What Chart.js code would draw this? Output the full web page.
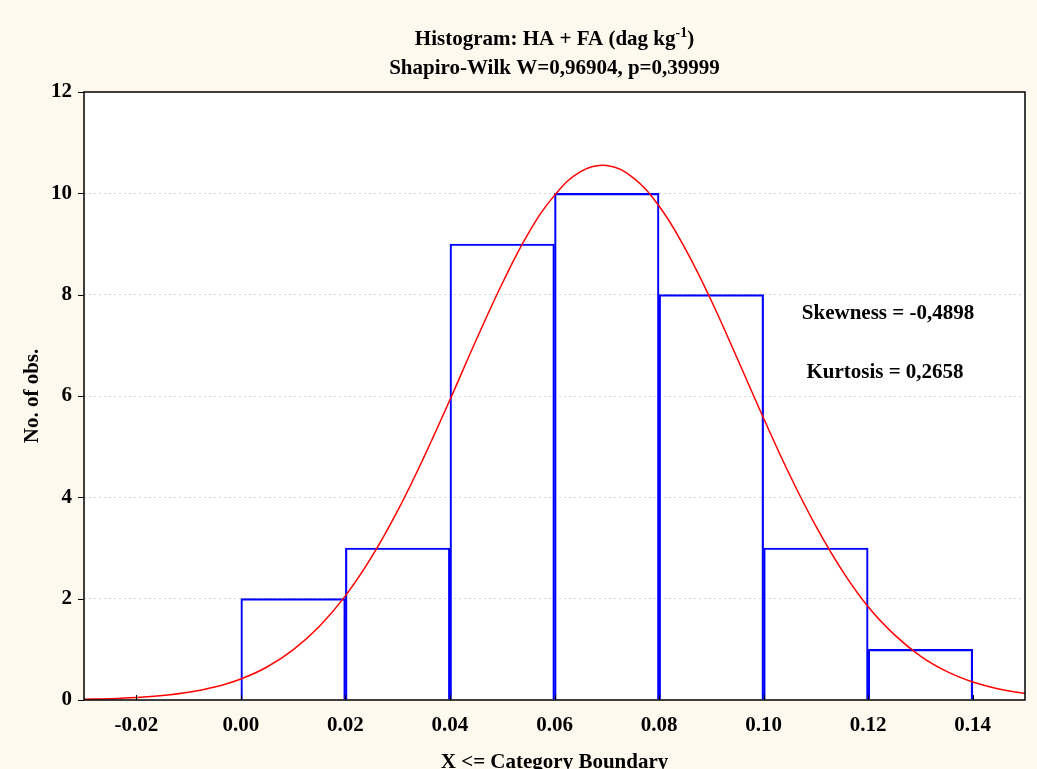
<!DOCTYPE html>
<html>
<head>
<meta charset="utf-8">
<script src="https://cdn.jsdelivr.net/npm/chart.js@4"></script>
<style>
  html, body { margin: 0; padding: 0; background: #fdf9ef; }
  #wrap { width: 1037px; height: 769px; }
</style>
</head>
<body>
<div id="wrap"><canvas id="histChart" width="1037" height="769"></canvas></div>
<script>
// Histogram bins (lower boundary) and counts
const binLower = [0.00, 0.02, 0.04, 0.06, 0.08, 0.10, 0.12];
const binWidth = 0.02;
const counts = [2, 3, 9, 10, 8, 3, 1];

// Fitted normal curve
const curveX = [-0.030, -0.025, -0.020, -0.015, -0.010, -0.005, 0.000, 0.005, 0.010, 0.015,
                0.020, 0.025, 0.030, 0.035, 0.040, 0.045, 0.050, 0.055, 0.060, 0.065,
                0.070, 0.075, 0.080, 0.085, 0.090, 0.095, 0.100, 0.105, 0.110, 0.115,
                0.120, 0.125, 0.130, 0.135, 0.140, 0.145, 0.150];
const curveY = [0.014, 0.026, 0.049, 0.088, 0.152, 0.255, 0.415, 0.651, 0.989, 1.449,
                2.055, 2.818, 3.736, 4.788, 5.926, 7.10, 8.22, 9.21, 9.96, 10.43,
                10.55, 10.31, 9.75, 8.91, 7.88, 6.73, 5.56, 4.44, 3.43, 2.56,
                1.84, 1.29, 0.867, 0.565, 0.356, 0.217, 0.128];

// Axis ticks
const xTicks = [-0.02, 0.00, 0.02, 0.04, 0.06, 0.08, 0.10, 0.12, 0.14];
const yTicks = [0, 2, 4, 6, 8, 10, 12];

const titleLine1 = ['Histogram: HA + FA (dag kg', '-1', ')'];
const titleLine2 = 'Shapiro-Wilk W=0,96904, p=0,39999';
const notes = ['Skewness = -0,4898', 'Kurtosis = 0,2658'];

const serif = '"Liberation Serif", "Times New Roman", serif';

const frame = {
    id: 'frame',
    beforeDraw(chart) {
        const { ctx, chartArea: a } = chart;
        ctx.save();
        ctx.fillStyle = '#fdf9ef';
        ctx.fillRect(0, 0, chart.width, chart.height);
        ctx.fillStyle = '#ffffff';
        ctx.fillRect(a.left, a.top, a.right - a.left, a.bottom - a.top);
        ctx.restore();
    },
    afterDraw(chart) {
        const { ctx, chartArea: a, scales } = chart;
        ctx.save();
        ctx.strokeStyle = '#000';
        ctx.lineWidth = 1.5;
        ctx.strokeRect(a.left, a.top, a.right - a.left, a.bottom - a.top);
        // ticks
        ctx.lineWidth = 1;
        ctx.beginPath();
        yTicks.forEach(v => {
            const y = Math.round(scales.y.getPixelForValue(v)) + 0.5;
            ctx.moveTo(a.left - 6, y); ctx.lineTo(a.left, y);
        });
        xTicks.forEach(v => {
            const x = Math.round(scales.x.getPixelForValue(v)) + 0.5;
            ctx.moveTo(x, a.bottom); ctx.lineTo(x, a.bottom - 5);
        });
        ctx.stroke();

        // title
        ctx.fillStyle = '#000';
        ctx.textBaseline = 'alphabetic';
        const mainFont = 'bold 21px ' + serif;
        const supFont = 'bold 14px ' + serif;
        ctx.font = mainFont;
        const w0 = ctx.measureText(titleLine1[0]).width;
        const w2 = ctx.measureText(titleLine1[2]).width;
        ctx.font = supFont;
        const w1 = ctx.measureText(titleLine1[1]).width;
        const cx = (a.left + a.right) / 2;
        let x = cx - (w0 + w1 + w2) / 2;
        ctx.font = mainFont;
        ctx.textAlign = 'left';
        ctx.fillText(titleLine1[0], x, 45);
        x += w0;
        ctx.font = supFont;
        ctx.fillText(titleLine1[1], x, 37);
        x += w1;
        ctx.font = mainFont;
        ctx.fillText(titleLine1[2], x, 45);
        ctx.textAlign = 'center';
        ctx.fillText(titleLine2, cx, 74);

        // notes
        ctx.fillText(notes[0], 888, 319);
        ctx.fillText(notes[1], 885, 378);
        ctx.restore();
    }
};

const ctx = document.getElementById('histChart').getContext('2d');
const histChart = new Chart(ctx, {
    data: {
        datasets: [{
            type: 'bar',
            label: 'No. of obs.',
            data: binLower.map((lo, i) => ({ x: lo + binWidth / 2, y: counts[i] })),
            backgroundColor: 'rgba(0,0,0,0)',
            borderColor: '#0000ff',
            borderWidth: 1.5,
            barPercentage: 1,
            categoryPercentage: 1,
            grouped: false,
            order: 2
        }, {
            type: 'line',
            label: 'Normal',
            data: curveX.map((v, i) => ({ x: v, y: curveY[i] })),
            borderColor: '#ff0000',
            borderWidth: 1.5,
            pointRadius: 0,
            tension: 0.4,
            fill: false,
            order: 1
        }]
    },
    options: {
        responsive: false,
        animation: false,
        layout: { padding: { top: 92, right: 12, left: 0, bottom: 0 } },
        plugins: {
            legend: { display: false },
            tooltip: { enabled: false }
        },
        scales: {
            x: {
                type: 'linear',
                offset: false,
                min: -0.03,
                max: 0.15,
                afterBuildTicks: s => { s.ticks = xTicks.map(v => ({ value: v })); },
                afterFit: s => { s.height = 69; },
                grid: { display: false, drawTicks: false },
                border: { display: false },
                ticks: {
                    color: '#000',
                    padding: 13,
                    maxRotation: 0,
                    font: { family: serif, size: 21, weight: 'bold' },
                    callback: v => v.toFixed(2)
                },
                title: {
                    display: true,
                    text: 'X <= Category Boundary',
                    color: '#000',
                    padding: { top: 20, bottom: -6 },
                    font: { family: serif, size: 21, weight: 'bold' }
                }
            },
            y: {
                min: 0,
                max: 12,
                afterBuildTicks: s => { s.ticks = yTicks.map(v => ({ value: v })); },
                afterFit: s => { s.width = 84; },
                grid: {
                    drawTicks: false,
                    color: ctx => (ctx.tick && (ctx.tick.value === 0 || ctx.tick.value === 12)) ? 'rgba(0,0,0,0)' : '#d6d6d6',
                    lineWidth: 1
                },
                border: { display: false, dash: [2, 3] },
                ticks: {
                    color: '#000',
                    padding: 12,
                    font: { family: serif, size: 21, weight: 'bold' }
                },
                title: {
                    display: true,
                    text: 'No. of obs.',
                    color: '#000',
                    padding: { bottom: 0, top: 20 },
                    font: { family: serif, size: 21, weight: 'bold' }
                }
            }
        }
    },
    plugins: [frame]
});
</script>
</body>
</html>
